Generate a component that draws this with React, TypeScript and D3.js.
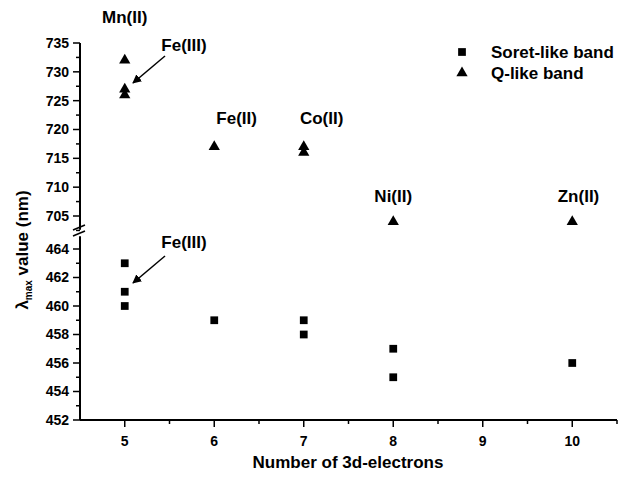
import React from "react";
import * as d3 from "d3";

const W = 621;
const H = 477;

// Soret-like band (squares)
const soretX = [5, 5, 5, 6, 7, 7, 8, 8, 10];
const soretY = [463, 461, 460, 459, 459, 458, 457, 455, 456];
// Q-like band (triangles)
const qX = [5, 5, 5, 6, 7, 7, 8, 10];
const qY = [732, 727, 726, 717, 717, 716, 704, 704];

const xTicks = [5, 6, 7, 8, 9, 10];
const upperTicks = [705, 710, 715, 720, 725, 730, 735];
const lowerTicks = [452, 454, 456, 458, 460, 462, 464];

const ionLabels = [
  { t: "Mn(II)", x: 5, y: 738.5 },
  { t: "Fe(II)", x: 6.25, y: 721 },
  { t: "Co(II)", x: 7.2, y: 721 },
  { t: "Ni(II)", x: 8, y: 707.5 },
  { t: "Zn(II)", x: 10.07, y: 707.5 },
];

const font = "'Liberation Sans', Arial, sans-serif";

const App = () => {
  const x = d3.scaleLinear().domain([4.5, 10.5]).range([80, 617]);
  const yUp = d3.scaleLinear().domain([705, 735]).range([216, 43]);
  const yLo = d3.scaleLinear().domain([452, 464]).range([420, 249]);

  const square = d3.symbol(d3.symbolSquare, 60)()!;
  const tri = d3.symbol(d3.symbolTriangle, 55)()!;

  const upperMinor = d3.range(702.5, 736, 2.5).filter(v => !upperTicks.includes(v));
  const lowerMinor = d3.range(453, 465, 2);
  const xMinor = d3.range(4.5, 10.6, 0.5).filter(v => !xTicks.includes(v) && v > 4.5);

  const axisX = x.range()[0];

  return (
    <svg width={W} height={H} style={{ position: "absolute", left: 0, top: 0, background: "#fff" }}
      fontFamily={font} fontWeight="bold">
      {/* y axis segments with break */}
      <g stroke="#000" strokeWidth={2}>
        <line x1={axisX} x2={axisX} y1={yUp(735)} y2={yUp(702.6)} />
        <line x1={axisX} x2={axisX} y1={yLo(464.9)} y2={420} />
        <line x1={axisX - 7} x2={axisX + 5} y1={230} y2={225} strokeWidth={1.5} />
        <line x1={axisX - 7} x2={axisX + 5} y1={236} y2={231} strokeWidth={1.5} />
        <line x1={axisX} x2={617} y1={420} y2={420} />
      </g>
      <g stroke="#000" strokeWidth={1.5}>
        {upperTicks.map(v => (
          <line key={"u" + v} x1={axisX - 7} x2={axisX} y1={yUp(v)} y2={yUp(v)} />
        ))}
        {upperMinor.map(v => (
          <line key={"um" + v} x1={axisX - 4} x2={axisX} y1={yUp(v)} y2={yUp(v)} />
        ))}
        {lowerTicks.map(v => (
          <line key={"l" + v} x1={axisX - 7} x2={axisX} y1={yLo(v)} y2={yLo(v)} />
        ))}
        {lowerMinor.map(v => (
          <line key={"lm" + v} x1={axisX - 4} x2={axisX} y1={yLo(v)} y2={yLo(v)} />
        ))}
        {xTicks.map(v => (
          <line key={"x" + v} x1={x(v)} x2={x(v)} y1={420} y2={427} />
        ))}
        {xMinor.map(v => (
          <line key={"xm" + v} x1={x(v)} x2={x(v)} y1={420} y2={424} />
        ))}
      </g>
      <g fontSize={14} textAnchor="end">
        {upperTicks.map(v => (
          <text key={v} x={axisX - 11} y={yUp(v)} dy="0.35em">{v}</text>
        ))}
        {lowerTicks.map(v => (
          <text key={v} x={axisX - 11} y={yLo(v)} dy="0.35em">{v}</text>
        ))}
      </g>
      <g fontSize={14} textAnchor="middle">
        {xTicks.map(v => (
          <text key={v} x={x(v)} y={446}>{v}</text>
        ))}
      </g>
      <text x={348} y={468} fontSize={17} textAnchor="middle">Number of 3d-electrons</text>
      <text transform="translate(28,250) rotate(-90)" fontSize={17} textAnchor="middle">
        λ<tspan fontSize={10} dy={4}>max</tspan><tspan dy={-4}> value (nm)</tspan>
      </text>

      {/* data */}
      {soretX.map((v, i) => (
        <path key={"s" + i} d={square} transform={`translate(${x(v)},${yLo(soretY[i])})`} fill="#000" />
      ))}
      {qX.map((v, i) => (
        <path key={"q" + i} d={tri} transform={`translate(${x(v)},${yUp(qY[i])})`} fill="#000" />
      ))}

      {/* labels */}
      <g fontSize={17} textAnchor="middle">
        {ionLabels.map(l => (
          <text key={l.t} x={x(l.x)} y={yUp(l.y)}>{l.t}</text>
        ))}
        <text x={184} y={51}>Fe(III)</text>
        <text x={184} y={248}>Fe(III)</text>
      </g>
      <defs>
        <marker id="ah" viewBox="0 0 10 10" refX={9} refY={5} markerWidth={6} markerHeight={6} orient="auto">
          <path d="M0,0 L10,5 L0,10 z" fill="#000" />
        </marker>
      </defs>
      <line x1={165} y1={56} x2={133} y2={83} stroke="#000" strokeWidth={1.5} markerEnd="url(#ah)" />
      <line x1={165} y1={256} x2={133} y2={283} stroke="#000" strokeWidth={1.5} markerEnd="url(#ah)" />

      {/* legend */}
      <path d={square} transform="translate(462,52)" fill="#000" />
      <path d={tri} transform="translate(462,73)" fill="#000" />
      <g fontSize={17}>
        <text x={491} y={52} dy="0.35em">Soret-like band</text>
        <text x={491} y={73} dy="0.35em">Q-like band</text>
      </g>
    </svg>
  );
};

export default App;
